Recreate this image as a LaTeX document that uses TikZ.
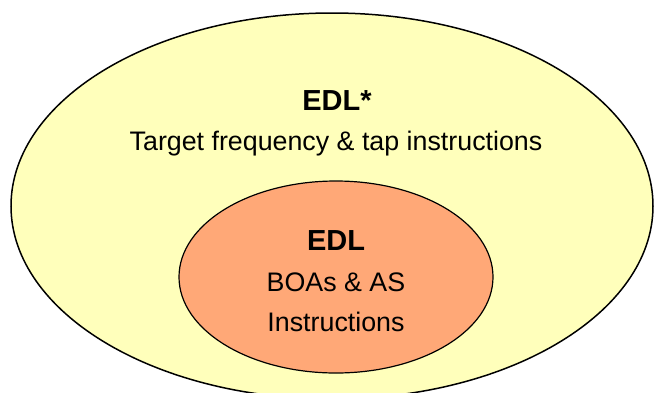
\documentclass[tikz,border=0pt]{standalone}
\usepackage{fontspec}
\setmainfont{Liberation Sans}
\usetikzlibrary{shapes.geometric}
\definecolor{outerfill}{HTML}{FFFFBB}
\definecolor{innerfill}{HTML}{FFA877}
\tikzset{
  blob/.style={ellipse, draw=black, inner sep=0pt, outer sep=0pt},
  title/.style={anchor=base, inner sep=0pt, font=\fontsize{29}{33}\selectfont\bfseries},
  body/.style={anchor=base, inner sep=0pt, font=\fontsize{26.8}{31}\selectfont},
}
\begin{document}
\begin{tikzpicture}[x=1pt,y=-1pt]
\useasboundingbox (0,0) rectangle (654,392);
\clip (0,0) rectangle (654,392);
\fill[white] (0,0) rectangle (654,392);
\node[blob, fill=outerfill, line width=1.5pt, minimum width=642pt, minimum height=386pt] (outer) at (332,206) {};
\node[blob, fill=innerfill, line width=1.2pt, minimum width=314pt, minimum height=192pt] (inner) at (336,277) {};
\node[title] (t1) at (337,110) {EDL*};
\node[body] (b1) at (336,150) {Target frequency \& tap instructions};
\node[title] (t2) at (336,250) {EDL};
\node[body] (b2) at (336,291) {BOAs \& AS};
\node[body] (b3) at (336,331) {Instructions};
\end{tikzpicture}
\end{document}
